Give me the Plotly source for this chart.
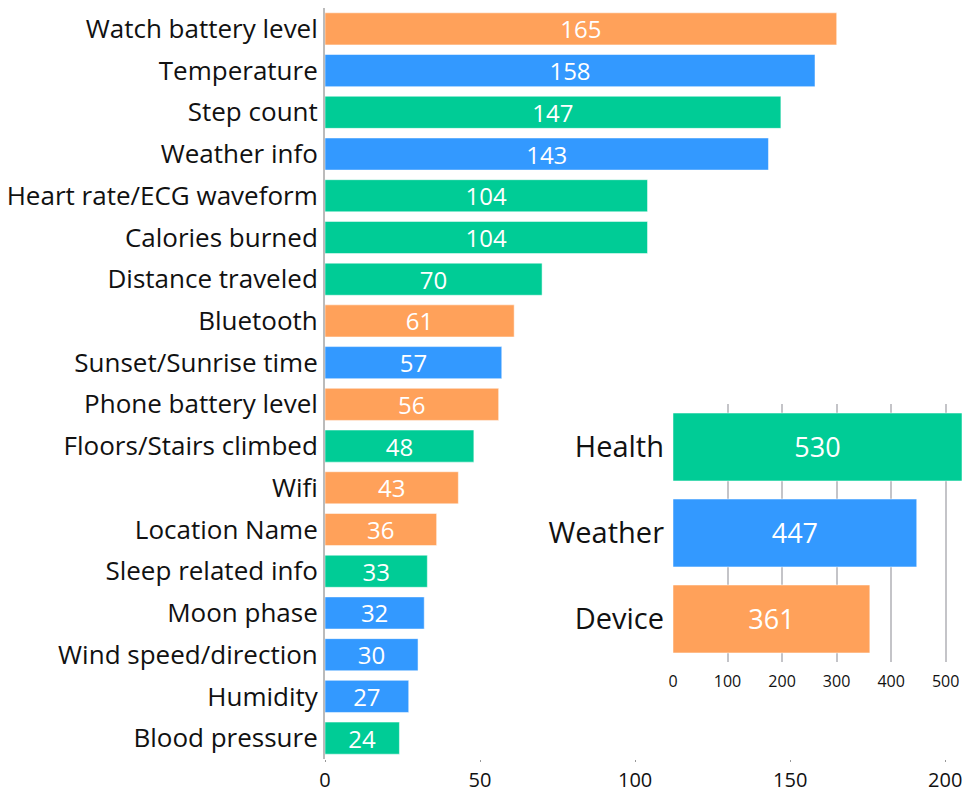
import plotly.graph_objects as go

features = ["Watch battery level", "Temperature", "Step count", "Weather info",
            "Heart rate/ECG waveform", "Calories burned", "Distance traveled",
            "Bluetooth", "Sunset/Sunrise time", "Phone battery level",
            "Floors/Stairs climbed", "Wifi", "Location Name", "Sleep related info",
            "Moon phase", "Wind speed/direction", "Humidity", "Blood pressure"]
counts = [165, 158, 147, 143, 104, 104, 70, 61, 57, 56, 48, 43, 36, 33, 32, 30, 27, 24]
feature_group = ["Device", "Weather", "Health", "Weather", "Health", "Health", "Health",
                 "Device", "Weather", "Device", "Health", "Device", "Device", "Health",
                 "Weather", "Weather", "Weather", "Health"]

groups = ["Health", "Weather", "Device"]
group_totals = [530, 447, 361]

group_colors = {"Health": "#00CC96", "Weather": "#3399FF", "Device": "#FFA15A"}
FONT = "Open Sans"

fig = go.Figure()
fig.add_trace(go.Bar(
    y=features, x=counts, orientation="h",
    marker=dict(color=[group_colors[g] for g in feature_group],
                line=dict(color="rgba(255,255,255,0.5)", width=1)),
    text=[str(v) for v in counts], textposition="inside", insidetextanchor="middle",
    textangle=0, constraintext="none",
    textfont=dict(family=FONT, size=24, color="white"),
    xaxis="x", yaxis="y", showlegend=False, hoverinfo="x+y",
))
fig.add_trace(go.Bar(
    y=groups, x=group_totals, orientation="h", width=0.79,
    marker=dict(color=[group_colors[g] for g in groups],
                line=dict(color="rgba(255,255,255,0.5)", width=1)),
    text=[str(v) for v in group_totals], textposition="inside", insidetextanchor="middle",
    textangle=0, constraintext="none",
    textfont=dict(family=FONT, size=27, color="white"),
    xaxis="x2", yaxis="y2", showlegend=False, hoverinfo="x+y",
))

fig.update_layout(
    width=965, height=791,
    margin=dict(l=325, r=3, t=8, b=32, autoexpand=False),
    paper_bgcolor="white", plot_bgcolor="rgba(0,0,0,0)",
    font=dict(family=FONT, color="#111"),
    bargap=0.23,
    xaxis=dict(domain=[0, 1], range=[0, 205.4], tickvals=[0, 50, 100, 150, 200],
               automargin=False,
               showgrid=False, zeroline=False, showline=False,
               ticks="outside", ticklen=2, tickcolor="#999", tickwidth=1,
               ticklabelstandoff=1,
               tickfont=dict(family=FONT, size=20, color="#111")),
    yaxis=dict(domain=[0, 1], autorange="reversed", showgrid=False, zeroline=False,
               automargin=False,
               showline=True, linecolor="#bbb", linewidth=2, ticks="",
               ticklabelstandoff=0,
               tickfont=dict(family=FONT, size=26, color="#111")),
    xaxis2=dict(domain=[0.5463, 1.0], anchor="y2", range=[0, 530],
                tickvals=[0, 100, 200, 300, 400, 500], automargin=False,
                showgrid=True, gridcolor="#c4c4c8", gridwidth=2,
                zeroline=False, showline=False, ticks="",
                ticklabelstandoff=8,
                tickfont=dict(family=FONT, size=16, color="#111")),
    yaxis2=dict(domain=[0.1292, 0.4727], anchor="x2", autorange="reversed",
                automargin=False,
                showgrid=False, zeroline=False, showline=False, ticks="",
                ticklabelstandoff=8,
                tickfont=dict(family=FONT, size=29, color="#111")),
)

fig.write_html("out.html", config={"displayModeBar": False},
               post_script="document.body.style.margin='0';document.body.style.overflow='hidden';")
